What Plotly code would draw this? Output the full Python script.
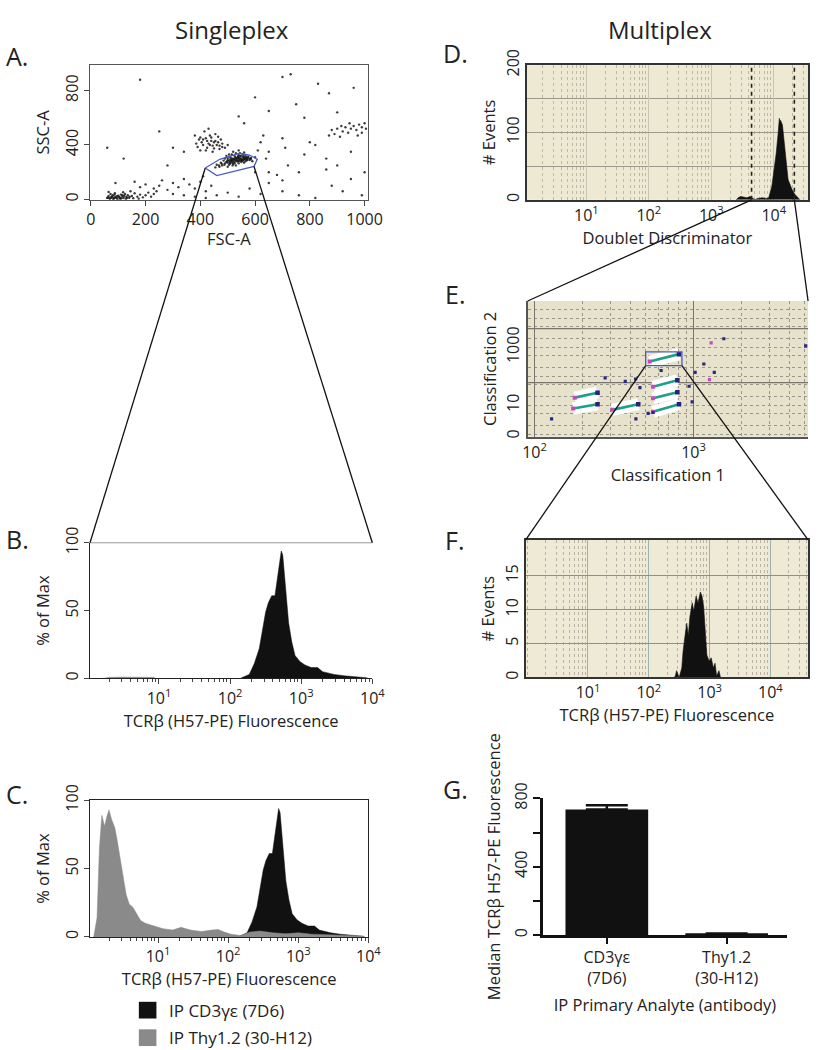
import numpy as np
import plotly.graph_objects as go

W, H = 825, 1050
FONT = "Open Sans"

# ---------------- data ----------------
# Panel A: FSC-A vs SSC-A scatter
a_fsc = [480,490,500,505,510,515,520,525,530,535,540,545,550,555,560,565,570,575,520,530,540,550,560,500,490,510,525,540,555,470,460,580,585,545,530,515,500,565,475,485,455,590,600,520,540,560,495,505,
         512,522,532,542,552,562,572,508,518,528,538,548,558,568,515,535,555,545,525,
         495,505,515,525,535,545,555,565,575,585,500,510,520,530,540,550,560,570,580,528,538,548,558,568,498,508,518,488,478,468,
         380,395,405,410,420,425,430,435,440,445,450,455,460,470,475,480,390,400,415,430,465,490,500,420,445,385,
         410,425,440,455,465,470,480,435,400,450,
         60,65,70,75,80,85,90,95,100,105,110,115,120,125,130,135,140,150,160,170,180,190,200,210,220,72,88,98,118,145,65,155,175,230,240,108,128,82,
         62,68,78,84,92,102,112,122,132,142,76,96,106,116,86,
         160,180,200,230,250,260,280,300,320,340,360,380,400,410,420,440,300,340,380,420,460,500,540,580,620,650,700,760,820,700,650,
         870,880,890,900,910,920,930,940,950,960,970,980,990,1000,1005,975,945,915,990,
         180,300,250,560,600,650,700,750,780,830,870,900,960,860,900,950,820,700,650,620,720,780,860,950,1000,340,280,120,60,90,730,800,600,680,760,880,920,990,640,610,630,540,710]
a_ssc = [250,265,270,255,280,290,300,275,285,295,305,290,300,310,295,280,300,315,260,250,265,275,270,290,300,310,320,325,330,240,255,290,305,340,340,330,240,320,270,285,235,280,310,350,360,345,320,330,
         285,295,305,280,290,300,290,270,275,300,310,285,295,305,300,280,285,315,265,
         275,285,270,290,280,300,285,295,305,295,305,295,285,300,290,285,305,290,300,310,315,320,318,310,280,262,250,255,262,250,
         470,440,420,400,450,380,410,470,430,395,420,480,400,370,440,410,385,360,500,520,460,380,400,360,350,410,
         440,430,455,430,420,395,385,400,455,375,
         10,25,5,18,30,12,20,8,28,15,35,22,10,40,18,30,12,25,45,20,35,15,30,50,20,40,45,0,52,60,55,8,5,40,60,3,2,2,
         15,8,22,6,14,20,8,25,10,20,12,24,10,30,35,
         130,90,110,80,100,140,70,120,90,150,110,80,130,170,60,100,40,30,20,10,30,50,20,80,40,120,60,30,10,140,200,
         470,510,480,520,460,500,530,490,520,540,510,550,530,560,520,470,560,540,490,
         880,380,500,560,750,650,900,700,600,850,780,640,820,300,250,150,400,450,350,420,250,330,220,350,200,350,250,300,380,120,920,420,200,180,200,100,60,30,300,360,470,610,380]
a_gate_fsc = [418, 460, 596, 608, 579, 543, 471, 418]
a_gate_ssc = [231, 175, 243, 295, 326, 339, 295, 231]

# Panels B and C: TCRb fluorescence histograms (% of max)
cd3_fl = [140, 145, 186, 219, 257, 286, 316, 346, 385, 427, 459, 492, 524, 550, 598, 665, 736, 818, 958, 1125, 1384, 1700, 2000, 2340, 2890, 3970, 5450, 8300, 8800]
cd3_pct = [0, 0.5, 3, 11, 22, 37, 49, 56, 61, 61, 73, 87, 94, 91, 70, 41, 27, 17, 12.5, 10, 8, 8, 5, 4, 3, 2, 1.5, 0.5, 0]
thy_fl = [1.2, 1.22, 1.35, 1.46, 1.58, 1.73, 1.86, 2.0, 2.18, 2.42, 2.63, 2.83, 3.15, 3.51, 3.89, 4.34, 4.82, 5.65, 6.6, 8.6, 11.8, 16.2, 21.2, 29.2, 42, 58, 72, 88, 110, 151, 206, 281, 434, 662, 1010, 1546, 2630, 4900, 8400, 8800]
thy_pct = [0, 1, 14, 65, 89, 81, 88, 93, 86, 80, 70, 60, 43, 31, 24, 22, 18, 12, 10, 8, 6, 5, 7, 5, 4, 5, 5.5, 3.6, 2, 1, 3.6, 4.3, 3, 2.4, 3, 2, 1.5, 1, 0.7, 0]
b_bg_fl = [1.6, 2.0, 3.0, 4.5, 6.5, 8.5, 9.0]
b_bg_pct = [0, 0.8, 1, 0.8, 1, 0.8, 0]

# Panel D: doublet discriminator histogram
d_dd = [2512, 2690, 2950, 3310, 3715, 4170, 4570, 5010, 5500, 6600, 7590, 8318, 9333, 10230, 10960, 11750, 12160, 12300, 12590, 12880, 13800, 14790, 15850, 16980, 19500, 21880, 24550, 26300]
d_events = [0, 3, 5, 4, 3, 5, 2, 0, 2, 3, 2, 3, 20, 45, 69, 98, 115, 121, 116, 118, 111, 84, 55, 30, 16, 8, 3, 0]
d_gate = [4416, 21400]

# Panel E: bead classification regions
e_c1_start = [179, 175, 308, 556, 556, 556, 530]
e_c2_start = [18.2, 7.7, 6.9, 43, 17.3, 5.9, 318]
e_c1_end = [249, 249, 449, 791, 791, 810, 810]
e_c2_end = [27, 10.8, 10.8, 72, 28, 10.8, 575]
e_stray_c1 = [128, 278, 372, 432, 460, 625, 556, 518, 434, 937, 980, 1023, 1160, 1350, 1550, 5070]
e_stray_c2 = [3.35, 87, 66, 80, 40, 157, 5.6, 5.2, 3.35, 45, 13, 135, 263, 135, 1950, 1100]
e_mag_c1 = [1260, 1290]
e_mag_c2 = [76, 1400]
e_box = [500, 845, 232, 690]  # c1 low, c1 high, c2 low, c2 high

# Panel F: multiplex TCRb histogram
f_fl = [260, 273, 287, 316, 349, 366, 395, 421, 447, 475, 518, 551, 600, 646, 706, 750, 798, 849, 902, 986, 1062, 1156, 1230, 1307, 1426, 1513]
f_events = [0, 0.2, 1, 0, 1.4, 3.8, 6.2, 8, 6.2, 9, 11, 9.8, 12, 11, 12.6, 12, 10.5, 6.2, 3.3, 2.4, 2.9, 1.4, 2.1, 0.2, 1, 0]

# Panel G: median fluorescence bars
g_labels = ["CD3γε<br>(7D6)", "Thy1.2<br>(30-H12)"]
g_median = [735, 8]
g_err = [25, 0]

series_names = ["IP CD3γε (7D6)", "IP Thy1.2 (30-H12)"]
series_colors = ["#111111", "#8a8a8a"]

# ---------------- layout helpers ----------------
def xdom(a, b):
    return [a / W, b / W]

def ydom(top, bottom):
    return [1 - bottom / H, 1 - top / H]

dom = {
    "A": (xdom(87, 372), ydom(50, 187)),
    "B": (xdom(87, 376), ydom(536, 674)),
    "C": (xdom(87, 372), ydom(798, 937)),
    "D": (xdom(534, 822), ydom(50, 187)),
    "E": (xdom(535, 822), ydom(290, 428)),
    "F": (xdom(533, 822), ydom(533, 673)),
    "G": (xdom(551, 800), ydom(796, 935)),
}
rng = {
    "A": ([-3, 1014], [-3, 987]),
    "B": ([0.03, 4.0], [0, 100]),
    "C": ([0.03, 4.0], [0, 100]),
    "D": ([0.045, 4.55], [0, 200]),
    "E": ([1.957, 3.72], [-0.085, 4.59]),
    "F": ([-0.024, 4.62], [0, 20.3]),
}

def to_paper(v, r, d, log=False):
    t = np.log10(v) if log else v
    return d[0] + (t - r[0]) / (r[1] - r[0]) * (d[1] - d[0])

fig = go.Figure()

# ---- A ----
fig.add_trace(go.Scatter(x=a_fsc, y=a_ssc, mode="markers", xaxis="x", yaxis="y",
                         marker=dict(size=2.4, color="#1a1a1a", opacity=0.85), showlegend=False))
fig.add_trace(go.Scatter(x=a_gate_fsc, y=a_gate_ssc, mode="lines", xaxis="x", yaxis="y",
                         line=dict(color="#4a5cc0", width=1.3), showlegend=False))

# ---- B ----
fig.add_trace(go.Scatter(x=b_bg_fl, y=b_bg_pct, mode="lines", fill="tozeroy", xaxis="x2", yaxis="y2",
                         line=dict(color=series_colors[1], width=0.5), fillcolor=series_colors[1], showlegend=False))
fig.add_trace(go.Scatter(x=cd3_fl, y=cd3_pct, mode="lines", fill="tozeroy", xaxis="x2", yaxis="y2",
                         line=dict(color=series_colors[0], width=0.5), fillcolor=series_colors[0], showlegend=False))

# ---- C ----
fig.add_trace(go.Scatter(x=cd3_fl, y=cd3_pct, mode="lines", fill="tozeroy", xaxis="x3", yaxis="y3",
                         line=dict(color=series_colors[0], width=0.5), fillcolor=series_colors[0], showlegend=False))
fig.add_trace(go.Scatter(x=thy_fl, y=thy_pct, mode="lines", fill="tozeroy", xaxis="x3", yaxis="y3",
                         line=dict(color=series_colors[1], width=0.5), fillcolor=series_colors[1], showlegend=False))

# ---- D ----
fig.add_trace(go.Scatter(x=d_dd, y=d_events, mode="lines", fill="tozeroy", xaxis="x4", yaxis="y4",
                         line=dict(color="#111", width=0.6), fillcolor="#111", showlegend=False))
for g in d_gate:
    fig.add_trace(go.Scatter(x=[g, g], y=rng["D"][1], mode="lines", xaxis="x4", yaxis="y4",
                             line=dict(color="#222", width=1.6, dash="4px,4px"), showlegend=False))

# ---- E ----
ex, ey = [], []
for a, b, c, d in zip(e_c1_start, e_c2_start, e_c1_end, e_c2_end):
    ex += [a, c, None]
    ey += [b, d, None]
fig.add_trace(go.Scatter(x=ex, y=ey, mode="lines", xaxis="x5", yaxis="y5",
                         line=dict(color="white", width=12), showlegend=False))
fig.add_trace(go.Scatter(x=ex, y=ey, mode="lines", xaxis="x5", yaxis="y5",
                         line=dict(color="#1f9e8a", width=2.6), showlegend=False))
fig.add_trace(go.Scatter(x=e_c1_start, y=e_c2_start, mode="markers", xaxis="x5", yaxis="y5",
                         marker=dict(size=4, color="#c04cc0", symbol="square"), showlegend=False))
fig.add_trace(go.Scatter(x=e_c1_end, y=e_c2_end, mode="markers", xaxis="x5", yaxis="y5",
                         marker=dict(size=4.5, color="#23237a", symbol="square"), showlegend=False))
fig.add_trace(go.Scatter(x=e_stray_c1, y=e_stray_c2, mode="markers", xaxis="x5", yaxis="y5",
                         marker=dict(size=3.2, color="#2a2a80", symbol="square"), showlegend=False))
fig.add_trace(go.Scatter(x=e_mag_c1, y=e_mag_c2, mode="markers", xaxis="x5", yaxis="y5",
                         marker=dict(size=3.2, color="#c04cc0", symbol="square"), showlegend=False))
bx = [e_box[0], e_box[1], e_box[1], e_box[0], e_box[0]]
by = [e_box[2], e_box[2], e_box[3], e_box[3], e_box[2]]
fig.add_trace(go.Scatter(x=bx, y=by, mode="lines", xaxis="x5", yaxis="y5",
                         line=dict(color="#4a5cc0", width=1.3), showlegend=False))

# ---- F ----
fig.add_trace(go.Scatter(x=f_fl, y=f_events, mode="lines", fill="tozeroy", xaxis="x6", yaxis="y6",
                         line=dict(color="#111", width=0.6), fillcolor="#111", showlegend=False))

# ---- G ----
fig.add_trace(go.Bar(x=g_labels, y=g_median, xaxis="x7", yaxis="y7", width=0.69,
                     marker=dict(color="#111", line=dict(width=0)),
                     error_y=dict(type="data", array=g_err, arrayminus=[0, 0], symmetric=False,
                                  color="#111", thickness=2.5, width=21),
                     showlegend=False))

# ---------------- axes ----------------
tickfont = dict(family=FONT, size=16, color="#222")
titlefont = dict(family=FONT, size=16.5, color="#222")

def sup_labels(decades):
    return [10 ** k for k in decades], ["10<sup>%d</sup>" % k for k in decades]

layout = dict(
    width=W, height=H, margin=dict(l=0, r=0, t=0, b=0),
    paper_bgcolor="white", plot_bgcolor="white",
    font=dict(family=FONT, size=16, color="#222"),
    showlegend=False,
)

# A
layout["xaxis"] = dict(domain=dom["A"][0], range=rng["A"][0], anchor="y", tickvals=[0, 200, 400, 600, 800, 1000],
                       ticks="outside", ticklen=5, showgrid=False, zeroline=False, showline=True,
                       linecolor="#555", linewidth=1, mirror=True, tickfont=tickfont)
layout["yaxis"] = dict(domain=dom["A"][1], range=rng["A"][1], anchor="x", tickvals=[0, 400, 800], tickangle=-90,
                       ticks="outside", ticklen=5, showgrid=False, zeroline=False, showline=True,
                       linecolor="#555", linewidth=1, mirror=True, tickfont=tickfont,
                       title=dict(text="SSC-A", font=titlefont, standoff=6))

# B and C
tv, tt = sup_labels([1, 2, 3, 4])
for key, xa, ya, xn, yn, mir in [("B", "xaxis2", "yaxis2", "x2", "y2", False), ("C", "xaxis3", "yaxis3", "x3", "y3", True)]:
    layout[xa] = dict(domain=dom[key][0], range=rng[key][0], type="log", anchor=yn, tickvals=tv, ticktext=tt,
                      ticks="outside", ticklen=5, showgrid=False, zeroline=False, showline=True,
                      linecolor="#222", linewidth=1, mirror=mir, tickfont=tickfont,
                      minor=dict(dtick="D1", ticks="outside", ticklen=3, tickcolor="#444"),
                      title=dict(text="TCRβ (H57-PE) Fluorescence", font=titlefont, standoff=4))
    layout[ya] = dict(domain=dom[key][1], range=rng[key][1], anchor=xn, tickvals=[0, 50, 100], tickangle=-90,
                      ticks="outside", ticklen=5, showgrid=False, zeroline=False, showline=True,
                      linecolor="#222", linewidth=1, mirror=mir, tickfont=tickfont,
                      title=dict(text="% of Max", font=titlefont, standoff=6))

BEIGE = "#EDE9D3"
# D
layout["xaxis4"] = dict(domain=dom["D"][0], range=rng["D"][0], type="log", anchor="y4", tickvals=tv, ticktext=tt,
                        ticks="", showgrid=True, gridcolor="#c9c5b2", gridwidth=1, zeroline=False, showline=True,
                        linecolor="#333", linewidth=1.5, mirror=True, tickfont=tickfont,
                        minor=dict(dtick="D1", showgrid=True, gridcolor="#bdb9a6", griddash="dot", gridwidth=1),
                        title=dict(text="Doublet Discriminator", font=titlefont, standoff=0))
layout["yaxis4"] = dict(domain=dom["D"][1], range=rng["D"][1], anchor="x4", tickvals=[0, 100, 200], tickangle=-90,
                        ticks="", showgrid=True, gridcolor="#9c998c", zeroline=False, showline=True,
                        linecolor="#333", linewidth=1.5, mirror=True, tickfont=tickfont,
                        minor=dict(dtick=50, showgrid=True, gridcolor="#9c998c"),
                        title=dict(text="# Events", font=titlefont, standoff=2))

# E
tv2, tt2 = sup_labels([2, 3])
layout["xaxis5"] = dict(domain=dom["E"][0], range=rng["E"][0], type="log", anchor="y5", tickvals=tv2, ticktext=tt2,
                        ticks="", showgrid=True, gridcolor="#77756c", zeroline=False, showline=True,
                        linecolor="#555", linewidth=2, mirror=False, tickfont=tickfont,
                        minor=dict(dtick="D1", showgrid=True, gridcolor="#9a978a", griddash="dot"),
                        title=dict(text="Classification 1", font=titlefont, standoff=0))
layout["yaxis5"] = dict(domain=dom["E"][1], range=rng["E"][1], type="log", anchor="x5", tickvals=[0.85, 10, 1000],
                        ticktext=["0", "10", "1000"], tickangle=-90,
                        ticks="", showgrid=False, zeroline=False, showline=True,
                        linecolor="#555", linewidth=2, mirror=False, tickfont=tickfont,
                        minor=dict(dtick="D2", showgrid=True, gridcolor="#9a978a", griddash="dot"),
                        title=dict(text="Classification 2", font=titlefont, standoff=2))

# F
layout["xaxis6"] = dict(domain=dom["F"][0], range=rng["F"][0], type="log", anchor="y6", tickvals=tv, ticktext=tt,
                        ticks="", showgrid=True, gridcolor="#9fb0b0", zeroline=False, showline=True,
                        linecolor="#333", linewidth=1.5, mirror=True, tickfont=tickfont,
                        minor=dict(dtick="D1", showgrid=True, gridcolor="#bcb1a6", griddash="dot"),
                        title=dict(text="TCRβ (H57-PE) Fluorescence", font=titlefont, standoff=0))
layout["yaxis6"] = dict(domain=dom["F"][1], range=rng["F"][1], anchor="x6", tickvals=[0, 5, 10, 15], tickangle=-90,
                        ticks="", showgrid=True, gridcolor="#9a8c84", zeroline=False, showline=True,
                        linecolor="#333", linewidth=1.5, mirror=True, tickfont=tickfont,
                        title=dict(text="# Events", font=titlefont, standoff=2))

# G
layout["xaxis7"] = dict(domain=dom["G"][0], range=[-0.53, 1.5], anchor="y7", type="category",
                        ticks="outside", ticklen=6, tickwidth=2, tickcolor="#111", showgrid=False, zeroline=False,
                        showline=True, linecolor="#111", linewidth=3, tickfont=tickfont,
                        title=dict(text="IP Primary Analyte (antibody)", font=titlefont, standoff=12))
layout["yaxis7"] = dict(domain=dom["G"][1], range=[0, 800], anchor="x7", tickvals=[0, 400, 800], tickangle=-90,
                        ticks="outside", ticklen=7, tickwidth=2, tickcolor="#111", showgrid=False, zeroline=False,
                        showline=True, linecolor="#111", linewidth=3, tickfont=tickfont,
                        minor=dict(dtick=200, ticks="outside", ticklen=7, tickwidth=2, tickcolor="#111"),
                        title=dict(text="Median TCRβ H57-PE Fluorescence", font=titlefont, standoff=6))

fig.update_layout(**layout)

# beige plot backgrounds for the multiplex panels
shapes = []
for key, xr, yr, col in [("D", "x4", "y4", BEIGE), ("E", "x5", "y5", "#E6E2CB"), ("F", "x6", "y6", "#EEEAD5")]:
    shapes.append(dict(type="rect", xref=xr + " domain", yref=yr + " domain", x0=0, x1=1, y0=0, y1=1,
                       fillcolor=col, line=dict(width=0), layer="below"))
# extra solid class gridlines in E
for fr in [0.399, 0.797]:
    shapes.append(dict(type="line", xref="x5 domain", yref="y5 domain", x0=0, x1=1, y0=fr, y1=fr,
                       line=dict(color="#77756c", width=1.2), layer="below"))
# top rule of panel B
shapes.append(dict(type="line", xref="x2 domain", yref="y2 domain", x0=0, x1=1, y0=1, y1=1,
                   line=dict(color="#999", width=1)))

# zoom connector lines
def P(key, x, y, logx=False, logy=False):
    return (to_paper(x, rng[key][0], dom[key][0], logx), to_paper(y, rng[key][1], dom[key][1], logy))

conn = [
    (P("A", a_gate_fsc[0], a_gate_ssc[0]), (dom["B"][0][0], dom["B"][1][1])),
    (P("A", a_gate_fsc[2], a_gate_ssc[2]), (dom["B"][0][1], dom["B"][1][1])),
    (P("D", d_gate[0], 0, logx=True), (dom["E"][0][0], dom["E"][1][1])),
    (P("D", d_gate[1], 0, logx=True), (dom["E"][0][1], dom["E"][1][1])),
    (P("E", e_box[0], e_box[2], True, True), (dom["F"][0][0], dom["F"][1][1])),
    (P("E", e_box[1], e_box[2], True, True), (dom["F"][0][1], dom["F"][1][1])),
]
for (x0, y0), (x1, y1) in conn:
    shapes.append(dict(type="line", xref="paper", yref="paper", x0=x0, y0=y0, x1=x1, y1=y1,
                       line=dict(color="#111", width=1.3)))

# legend squares for panel C
leg_y = [1011.5, 1039.5]
for name, col, yc in zip(series_names, series_colors, leg_y):
    shapes.append(dict(type="rect", xref="paper", yref="paper", x0=137 / W, x1=155 / W,
                       y0=1 - (yc + 8.5) / H, y1=1 - (yc - 8.5) / H, fillcolor=col, line=dict(width=0)))

annotations = []
# x-axis title of panel A, sitting tight under its tick labels
annotations.append(dict(text="FSC-A", x=sum(dom["A"][0]) / 2, y=1 - 226 / H, xref="paper", yref="paper",
                        xanchor="center", yanchor="middle", showarrow=False, font=titlefont))
for name, yc in zip(series_names, leg_y):
    annotations.append(dict(text=name, x=166 / W, y=1 - yc / H, xref="paper", yref="paper",
                            xanchor="left", yanchor="middle", showarrow=False,
                            font=dict(family=FONT, size=17, color="#222")))
for txt, xc, yc in [("Singleplex", 232, 14), ("Multiplex", 670, 14)]:
    annotations.append(dict(text=txt, x=xc / W, y=1 - yc / H, xref="paper", yref="paper",
                            xanchor="center", yanchor="middle", showarrow=False,
                            font=dict(family=FONT, size=24, color="#222")))
for txt, xc, yc in [("A.", 12, 41), ("B.", 13, 532), ("C.", 12, 792),
                    ("D.", 461, 38), ("E.", 461, 283), ("F.", 460, 533), ("G.", 461, 786)]:
    annotations.append(dict(text=txt, x=xc / W, y=1 - yc / H, xref="paper", yref="paper",
                            xanchor="center", yanchor="middle", showarrow=False,
                            font=dict(family=FONT, size=25, color="#222")))

fig.update_layout(shapes=shapes, annotations=annotations)
fig.write_html("out.html", config={"displayModeBar": False},
               post_script="document.body.style.margin='0px';")
